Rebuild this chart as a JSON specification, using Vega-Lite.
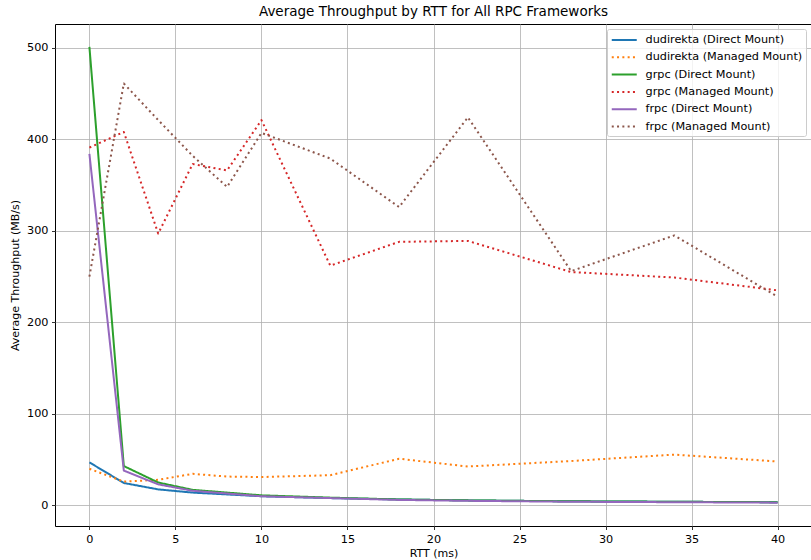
{
  "$schema": "https://vega.github.io/schema/vega-lite/v6.json",
  "width": 757,
  "height": 502,
  "autosize": {"type": "none"},
  "padding": {"left": 55, "top": 24, "right": 0, "bottom": 34},
  "background": "white",
  "title": {"text": "Average Throughput by RTT for All RPC Frameworks", "font": "DejaVu Sans", "fontSize": 13.5, "fontWeight": "normal", "color": "#000", "offset": 6, "anchor": "middle"},
  "config": {
    "font": "DejaVu Sans",
    "view": {"stroke": "#000", "strokeWidth": 1},
    "axis": {
      "domain": false,
      "grid": true, "gridColor": "#b0b0b0", "gridWidth": 0.8,
      "ticks": true, "tickColor": "#000", "tickSize": 3.5, "tickWidth": 0.8,
      "labelFont": "DejaVu Sans", "labelFontSize": 11.25, "labelColor": "#000", "labelPadding": 3.5,
      "titleFont": "DejaVu Sans", "titleFontSize": 11, "titleFontWeight": "normal", "titleColor": "#000"
    },
    "legend": {
      "orient": "none", "legendX": 552, "legendY": 5,
      "title": null,
      "fillColor": "rgba(255,255,255,0.8)", "strokeColor": "#cccccc", "cornerRadius": 2,
      "padding": 3.5,
      "symbolType": "M-1,0H3", "symbolSize": 156.25, "symbolStrokeWidth": 2,
      "labelFont": "DejaVu Sans", "labelFontSize": 11.25, "labelColor": "#000", "labelOffset": 20, "labelLimit": 300,
      "rowPadding": 4.3
    }
  },
  "data": {"values": [
    {"rtt": 0, "v": 47, "series": "dudirekta (Direct Mount)"},
    {"rtt": 2, "v": 24.5, "series": "dudirekta (Direct Mount)"},
    {"rtt": 4, "v": 17.5, "series": "dudirekta (Direct Mount)"},
    {"rtt": 6, "v": 14, "series": "dudirekta (Direct Mount)"},
    {"rtt": 8, "v": 12, "series": "dudirekta (Direct Mount)"},
    {"rtt": 10, "v": 10, "series": "dudirekta (Direct Mount)"},
    {"rtt": 14, "v": 8, "series": "dudirekta (Direct Mount)"},
    {"rtt": 18, "v": 6.5, "series": "dudirekta (Direct Mount)"},
    {"rtt": 22, "v": 5.5, "series": "dudirekta (Direct Mount)"},
    {"rtt": 28, "v": 4.5, "series": "dudirekta (Direct Mount)"},
    {"rtt": 34, "v": 4, "series": "dudirekta (Direct Mount)"},
    {"rtt": 40, "v": 3.5, "series": "dudirekta (Direct Mount)"},

    {"rtt": 0, "v": 40, "series": "dudirekta (Managed Mount)"},
    {"rtt": 2, "v": 26, "series": "dudirekta (Managed Mount)"},
    {"rtt": 4, "v": 28, "series": "dudirekta (Managed Mount)"},
    {"rtt": 6, "v": 34.5, "series": "dudirekta (Managed Mount)"},
    {"rtt": 8, "v": 31.5, "series": "dudirekta (Managed Mount)"},
    {"rtt": 10, "v": 31, "series": "dudirekta (Managed Mount)"},
    {"rtt": 14, "v": 33, "series": "dudirekta (Managed Mount)"},
    {"rtt": 18, "v": 51, "series": "dudirekta (Managed Mount)"},
    {"rtt": 22, "v": 42.5, "series": "dudirekta (Managed Mount)"},
    {"rtt": 28, "v": 48.5, "series": "dudirekta (Managed Mount)"},
    {"rtt": 34, "v": 55.5, "series": "dudirekta (Managed Mount)"},
    {"rtt": 40, "v": 48, "series": "dudirekta (Managed Mount)"},

    {"rtt": 0, "v": 501, "series": "grpc (Direct Mount)"},
    {"rtt": 2, "v": 43, "series": "grpc (Direct Mount)"},
    {"rtt": 4, "v": 25, "series": "grpc (Direct Mount)"},
    {"rtt": 6, "v": 17, "series": "grpc (Direct Mount)"},
    {"rtt": 8, "v": 14, "series": "grpc (Direct Mount)"},
    {"rtt": 10, "v": 11, "series": "grpc (Direct Mount)"},
    {"rtt": 14, "v": 8.5, "series": "grpc (Direct Mount)"},
    {"rtt": 18, "v": 6.5, "series": "grpc (Direct Mount)"},
    {"rtt": 22, "v": 5.5, "series": "grpc (Direct Mount)"},
    {"rtt": 28, "v": 4.5, "series": "grpc (Direct Mount)"},
    {"rtt": 34, "v": 4, "series": "grpc (Direct Mount)"},
    {"rtt": 40, "v": 3.5, "series": "grpc (Direct Mount)"},

    {"rtt": 0, "v": 391, "series": "grpc (Managed Mount)"},
    {"rtt": 2, "v": 408, "series": "grpc (Managed Mount)"},
    {"rtt": 4, "v": 297, "series": "grpc (Managed Mount)"},
    {"rtt": 6, "v": 373, "series": "grpc (Managed Mount)"},
    {"rtt": 8, "v": 366, "series": "grpc (Managed Mount)"},
    {"rtt": 10, "v": 421, "series": "grpc (Managed Mount)"},
    {"rtt": 14, "v": 262, "series": "grpc (Managed Mount)"},
    {"rtt": 18, "v": 288, "series": "grpc (Managed Mount)"},
    {"rtt": 22, "v": 289, "series": "grpc (Managed Mount)"},
    {"rtt": 28, "v": 255, "series": "grpc (Managed Mount)"},
    {"rtt": 34, "v": 249, "series": "grpc (Managed Mount)"},
    {"rtt": 40, "v": 235, "series": "grpc (Managed Mount)"},

    {"rtt": 0, "v": 384, "series": "frpc (Direct Mount)"},
    {"rtt": 2, "v": 38, "series": "frpc (Direct Mount)"},
    {"rtt": 4, "v": 23, "series": "frpc (Direct Mount)"},
    {"rtt": 6, "v": 16, "series": "frpc (Direct Mount)"},
    {"rtt": 8, "v": 13, "series": "frpc (Direct Mount)"},
    {"rtt": 10, "v": 10, "series": "frpc (Direct Mount)"},
    {"rtt": 14, "v": 8, "series": "frpc (Direct Mount)"},
    {"rtt": 18, "v": 6, "series": "frpc (Direct Mount)"},
    {"rtt": 22, "v": 5, "series": "frpc (Direct Mount)"},
    {"rtt": 28, "v": 4, "series": "frpc (Direct Mount)"},
    {"rtt": 34, "v": 3.5, "series": "frpc (Direct Mount)"},
    {"rtt": 40, "v": 3, "series": "frpc (Direct Mount)"},

    {"rtt": 0, "v": 250, "series": "frpc (Managed Mount)"},
    {"rtt": 2, "v": 461, "series": "frpc (Managed Mount)"},
    {"rtt": 4, "v": 421, "series": "frpc (Managed Mount)"},
    {"rtt": 6, "v": 382, "series": "frpc (Managed Mount)"},
    {"rtt": 8, "v": 348, "series": "frpc (Managed Mount)"},
    {"rtt": 10, "v": 407, "series": "frpc (Managed Mount)"},
    {"rtt": 14, "v": 379, "series": "frpc (Managed Mount)"},
    {"rtt": 18, "v": 326, "series": "frpc (Managed Mount)"},
    {"rtt": 22, "v": 424, "series": "frpc (Managed Mount)"},
    {"rtt": 28, "v": 256, "series": "frpc (Managed Mount)"},
    {"rtt": 34, "v": 295, "series": "frpc (Managed Mount)"},
    {"rtt": 40, "v": 228, "series": "frpc (Managed Mount)"}
  ]},
  "mark": {"type": "line", "strokeWidth": 2, "strokeCap": "butt", "strokeJoin": "round"},
  "encoding": {
    "x": {"field": "rtt", "type": "quantitative", "scale": {"domain": [-2, 42], "nice": false, "zero": false}, "axis": {"values": [0, 5, 10, 15, 20, 25, 30, 35, 40], "title": "RTT (ms)", "titlePadding": 3}},
    "y": {"field": "v", "type": "quantitative", "scale": {"domain": [-22.5, 526], "nice": false, "zero": false}, "axis": {"values": [0, 100, 200, 300, 400, 500], "title": "Average Throughput (MB/s)", "titlePadding": 6}},
    "color": {"field": "series", "type": "nominal", "sort": null,
      "scale": {"domain": ["dudirekta (Direct Mount)", "dudirekta (Managed Mount)", "grpc (Direct Mount)", "grpc (Managed Mount)", "frpc (Direct Mount)", "frpc (Managed Mount)"],
                "range": ["#1f77b4", "#ff7f0e", "#2ca02c", "#d62728", "#9467bd", "#8c564b"]}},
    "strokeDash": {"field": "series", "type": "nominal", "sort": null,
      "scale": {"domain": ["dudirekta (Direct Mount)", "dudirekta (Managed Mount)", "grpc (Direct Mount)", "grpc (Managed Mount)", "frpc (Direct Mount)", "frpc (Managed Mount)"],
                "range": [[1, 0], [2, 3.3], [1, 0], [2, 3.3], [1, 0], [2, 3.3]]}}
  }
}
